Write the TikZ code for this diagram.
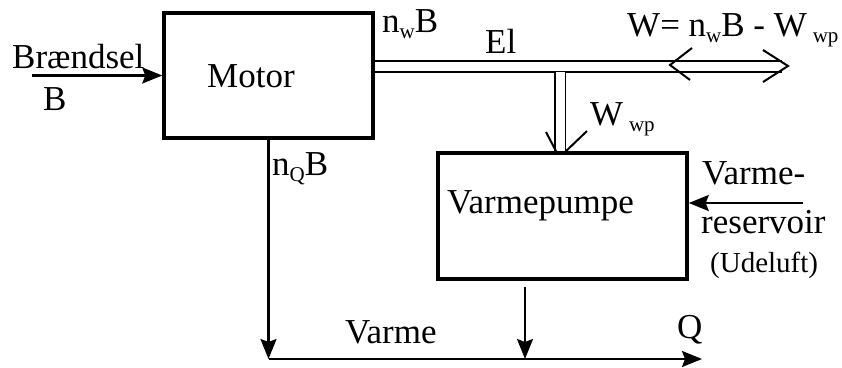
\documentclass[tikz,border=0pt]{standalone}
\usepackage{fontspec}
\setmainfont{Liberation Serif}
\usetikzlibrary{arrows.meta,calc}
\newcommand{\lo}[1]{\raisebox{-6pt}{\fontsize{21}{21}\selectfont #1}}

\begin{document}
\begin{tikzpicture}[x=1pt,y=-1pt,every node/.style={font=\fontsize{35}{40}\selectfont,inner sep=0pt},
      unit/.style={draw,line width=3.5pt},
      flow/.style={-{Stealth[length=20pt,width=16pt,inset=3pt]},line width=2.2pt},
      elec/.style={double,double distance=9pt,line width=1.8pt},
      barb/.style={line width=2pt},
      lbl/.style={anchor=base west}]
      \useasboundingbox (0,0) rectangle (842,367);
      \node[unit,minimum width=209pt,minimum height=125pt] (motor) at (268.5,75.5) {};
      \node[unit,minimum width=249pt,minimum height=126pt] (pump) at (562.5,216) {};
      \node[lbl] (motorname) at (207,87) {Motor};
      \node[lbl] (pumpname) at (447,213) {Varmepumpe};
      % fuel in
      \coordinate (fuelin) at (32,75.5);
      \draw[flow] (fuelin) -- (motor.west);
      \node[lbl] (fuel) at (12,68) {Brændsel};
      \node[lbl] (fuelsym) at (43,110) {B};
      % electricity
      \coordinate (elrow) at (0,66.5); \coordinate (elend) at (782,66.5);
      \draw[elec] (motor.east |- elrow) -- (elend);
      \coordinate (wout) at (788,66); \coordinate (win) at (670,65);
      \draw[barb] ($(wout)+(-25,-16)$) -- (wout) -- ($(wout)+(-25,16)$);
      \draw[barb] ($(win)+(22,-17)$) -- (win) -- ($(win)+(20,15)$);
      \coordinate (tee) at (560,72);
      \draw[elec] (tee) -- (tee |- pump.north);
      \coordinate (wtip) at (560,153);
      \draw[barb] ($(wtip)+(-14,-21)$) -- ($(wtip)+(-3,0)$);
      \draw[barb] ($(wtip)+(27,-22)$) -- ($(wtip)+(4,0)$);
      \node[lbl] (elout) at (382,32) {n\lo{w}B};
      \node[lbl] (el) at (485,53) {El};
      \node[lbl] (wnet) at (627,36) {W= n\lo{w}B - W\,\lo{wp}};
      \node[lbl] (wpump) at (590,125) {W\,\lo{wp}};
      % heat
      \coordinate (heatrow) at (0,359); \coordinate (qend) at (702,359);
      \draw[flow] (motor.south) -- (motor.south |- heatrow);
      \draw[flow] (motor.south |- heatrow) -- (qend);
      \coordinate (pumpout) at (525,287);
      \draw[flow] (pumpout) -- (pumpout |- heatrow);
      \coordinate (airin) at (803,203);
      \draw[flow] (airin) -- (pump.east |- airin);
      \node[lbl] (heatout) at (272,175) {n\lo{Q}B};
      \node[lbl] (heat) at (345,343) {Varme};
      \node[lbl] (q) at (677,338) {Q};
      \node[lbl] (res1) at (702,184) {Varme-};
      \node[lbl] (res2) at (701,233) {reservoir};
      \node[lbl,font=\fontsize{29}{34}\selectfont] (res3) at (710,272) {(Udeluft)};
    \end{tikzpicture}
\end{document}
